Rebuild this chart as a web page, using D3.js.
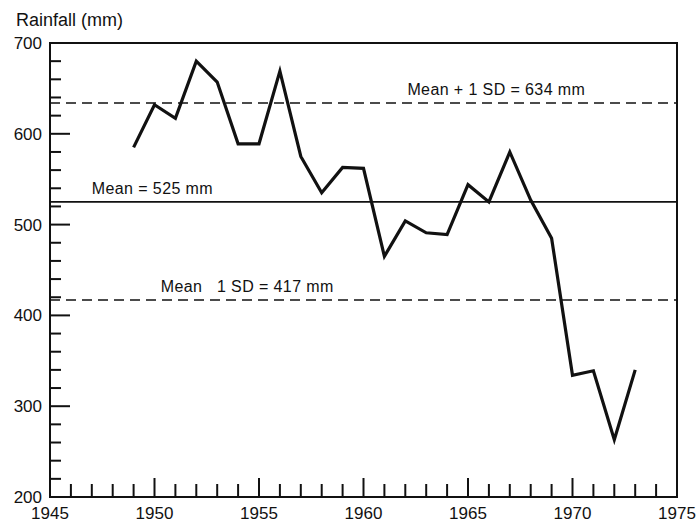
<!DOCTYPE html>
<meta charset="utf-8">
<style>
body { margin: 0; background: #fff; }
text { font-family: "Liberation Sans", Arial, sans-serif; fill: #111; }
</style>
<body>
<script src="https://d3js.org/d3.v7.min.js"></script>
<script>

// annual rainfall
var years = [1949,1950,1951,1952,1953,1954,1955,1956,1957,1958,1959,1960,1961,
             1962,1963,1964,1965,1966,1967,1968,1969,1970,1971,1972,1973];
var rain  = [585,632,617,680,657,589,589,669,575,535,563,562,465,
             504,491,489,544,525,580,527,485,334,339,263,340];

var refValues = [634, 525, 417];
var refLabels = ["Mean + 1 SD = 634 mm", "Mean = 525 mm", "Mean   1 SD = 417 mm"];
var refDashed = [true, false, true];
var refLabelYear = [1962.1, 1947.0, 1950.3];

var yTicks = [200, 300, 400, 500, 600, 700];
var xTicks = [1945, 1950, 1955, 1960, 1965, 1970, 1975];

var width = 696, height = 523;
var plotL = 50, plotR = 677, plotT = 43, plotB = 497;

var x = d3.scaleLinear().domain([1945, 1975]).range([plotL, plotR]);
var y = d3.scaleLinear().domain([200, 700]).range([plotB, plotT]);

var svg = d3.select("body").append("svg")
    .attr("width", width)
    .attr("height", height);

// frame
svg.append("rect")
    .attr("x", plotL).attr("y", plotT)
    .attr("width", plotR - plotL).attr("height", plotB - plotT)
    .attr("fill", "none").attr("stroke", "#111").attr("stroke-width", 2);

// y ticks (every 20, long ones every 100)
var yMinor = d3.range(200, 701, 20);
svg.selectAll(".ytick").data(yMinor).enter().append("line")
    .attr("x1", plotL)
    .attr("x2", function(d){ return plotL + (d % 100 === 0 ? 20 : 11); })
    .attr("y1", function(d){ return y(d); })
    .attr("y2", function(d){ return y(d); })
    .attr("stroke", "#111").attr("stroke-width", 2);

svg.selectAll(".ylab").data(yTicks).enter().append("text")
    .attr("x", plotL - 8)
    .attr("y", function(d){ return y(d) + 6; })
    .attr("text-anchor", "end")
    .attr("font-size", 17)
    .text(function(d){ return d; });

// x ticks (every year, long ones every 5)
var xMinor = d3.range(1945, 1976, 1);
svg.selectAll(".xtick").data(xMinor).enter().append("line")
    .attr("x1", function(d){ return x(d); })
    .attr("x2", function(d){ return x(d); })
    .attr("y1", plotB)
    .attr("y2", function(d){ return plotB - (d % 5 === 0 ? 19 : 13); })
    .attr("stroke", "#111").attr("stroke-width", 2);

svg.selectAll(".xlab").data(xTicks).enter().append("text")
    .attr("x", function(d){ return x(d); })
    .attr("y", plotB + 22)
    .attr("text-anchor", "middle")
    .attr("font-size", 17)
    .text(function(d){ return d; });

svg.append("text")
    .attr("x", 16).attr("y", 26)
    .attr("font-size", 18)
    .text("Rainfall (mm)");

// mean and +/- 1 SD lines
refValues.forEach(function(v, i){
  svg.append("line")
    .attr("x1", plotL).attr("x2", plotR)
    .attr("y1", y(v)).attr("y2", y(v))
    .attr("stroke", "#111").attr("stroke-width", 1.6)
    .attr("stroke-dasharray", refDashed[i] ? "10,6" : null);
  svg.append("text")
    .attr("x", x(refLabelYear[i]))
    .attr("y", y(v) - 8)
    .attr("font-size", 16)
    .attr("letter-spacing", 0.4)
    .style("white-space", "pre")
    .text(refLabels[i]);
});

// rainfall series
var line = d3.line()
    .x(function(d, i){ return x(years[i]); })
    .y(function(d){ return y(d); });

svg.append("path")
    .datum(rain)
    .attr("d", line)
    .attr("fill", "none")
    .attr("stroke", "#111")
    .attr("stroke-width", 3.2)
    .attr("stroke-linejoin", "miter");

</script>
